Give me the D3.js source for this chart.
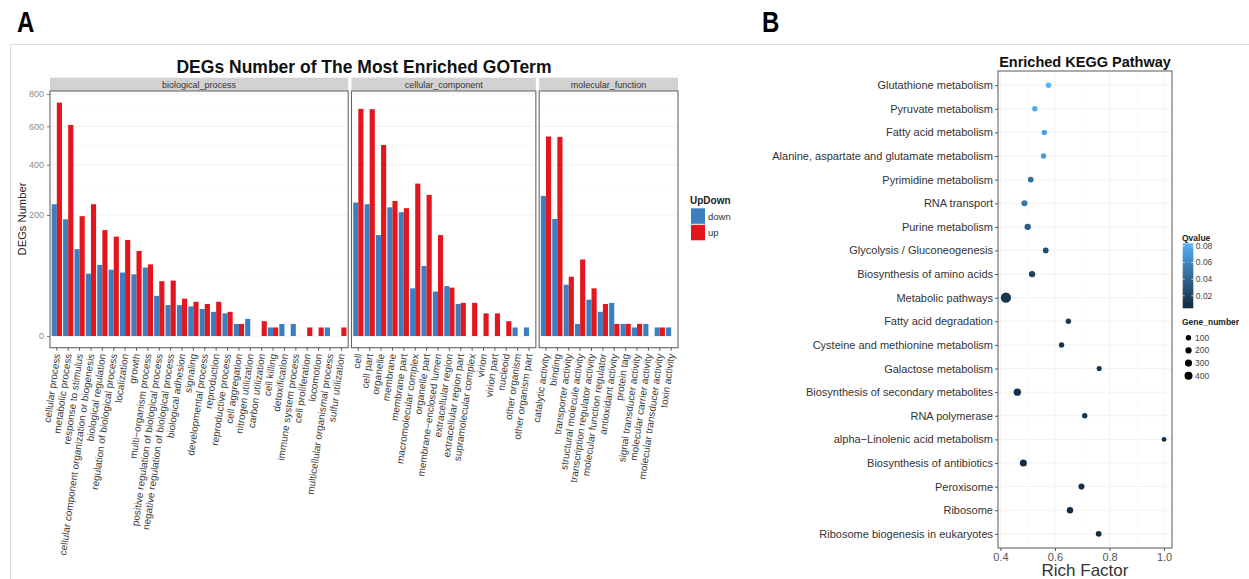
<!DOCTYPE html>
<html>
<head>
<meta charset="utf-8">
<script src="https://cdn.jsdelivr.net/npm/d3@7"></script>
<style>
  body { margin: 0; background: #fff; }
  svg { font-family: "Liberation Sans", Arial, Helvetica, sans-serif; }
</style>
</head>
<body>
<svg id="fig" width="1249" height="579"></svg>
<script>
// ---- panel A: GO terms, DEG counts (down / up) ----
const bpTerms = ["cellular process", "metabolic process", "response to stimulus",
  "cellular component organization or biogenesis", "biological regulation",
  "regulation of biological process", "localization", "growth", "multi\u2212organism process",
  "positive regulation of biological process", "negative regulation of biological process",
  "biological adhesion", "signaling", "developmental process", "reproduction",
  "reproductive process", "cell aggregation", "nitrogen utilization", "carbon utilization",
  "cell killing", "detoxification", "immune system process", "cell proliferation",
  "locomotion", "multicellular organismal process", "sulfur utilization"];
const bpDown = [237, 186, 103, 53, 69, 60, 55, 52, 64, 22, 13, 13, 12, 10, 8, 7, 2, 4, 0, 1, 2, 2, 0, 0, 1, 0];
const bpUp = [743, 608, 196, 237, 153, 135, 126, 99, 70, 41, 42, 19, 16, 14, 16, 8, 2, 0, 3, 1, 0, 0, 1, 1, 0, 1];

const ccTerms = ["cell", "cell part", "organelle", "membrane", "membrane part",
  "macromolecular complex", "organelle part", "membrane\u2212enclosed lumen",
  "extracellular region", "extracellular region part", "supramolecular complex",
  "virion", "virion part", "nucleoid", "other organism", "other organism part"];
const ccDown = [243, 237, 139, 226, 209, 31, 67, 27, 34, 14, 0, 0, 0, 0, 1, 1];
const ccUp = [704, 702, 498, 249, 223, 317, 272, 139, 32, 15, 15, 7, 7, 3, 0, 0];

const mfTerms = ["catalytic activity", "binding", "transporter activity",
  "structural molecule activity", "transcription regulator activity",
  "molecular function regulator", "antioxidant activity", "protein tag",
  "signal transducer activity", "molecular carrier activity",
  "molecular transducer activity", "toxin activity"];
const mfDown = [268, 187, 36, 2, 18, 8, 15, 2, 1, 2, 1, 1];
const mfUp = [543, 541, 48, 80, 31, 14, 2, 2, 2, 0, 1, 0];

const yTicksA = [0, 200, 400, 600, 800];
const updownKeys = ["down", "up"];

// ---- panel B: KEGG enrichment ----
const keggPathways = ["Glutathione metabolism", "Pyruvate metabolism", "Fatty acid metabolism",
  "Alanine, aspartate and glutamate metabolism", "Pyrimidine metabolism", "RNA transport",
  "Purine metabolism", "Glycolysis / Gluconeogenesis", "Biosynthesis of amino acids",
  "Metabolic pathways", "Fatty acid degradation", "Cysteine and methionine metabolism",
  "Galactose metabolism", "Biosynthesis of secondary metabolites", "RNA polymerase",
  "alpha\u2212Linolenic acid metabolism", "Biosynthesis of antibiotics", "Peroxisome",
  "Ribosome", "Ribosome biogenesis in eukaryotes"];
const richFactor = [0.576, 0.526, 0.561, 0.558, 0.511, 0.488, 0.500, 0.566, 0.516, 0.42,
  0.649, 0.624, 0.762, 0.462, 0.709, 1.0, 0.484, 0.697, 0.655, 0.760];
const qValue = [0.083, 0.078, 0.074, 0.072, 0.045, 0.052, 0.036, 0.026, 0.020, 0.012,
  0.015, 0.013, 0.012, 0.008, 0.010, 0.009, 0.007, 0.008, 0.006, 0.005];
const geneNumber = [105, 100, 100, 100, 140, 180, 215, 140, 215, 660,
  105, 105, 65, 325, 105, 30, 290, 180, 215, 140];

const xTicksB = [0.4, 0.6, 0.8, 1.0];
const qTicks = [0.02, 0.04, 0.06, 0.08];
const geneTicks = [100, 200, 300, 400];

const BLUE = "#3b7fc0", RED = "#e3161d";

const svg = d3.select("#fig");

// outer frame + panel letters
svg.append("path")
  .attr("d", "M10.5,579V44.5H1249")
  .attr("fill", "none").attr("stroke", "#dcdcdc");

svg.append("text").attr("transform", "translate(17,32) scale(0.8,1)")
  .attr("font-size", 30).attr("font-weight", "bold").text("A");
svg.append("text").attr("transform", "translate(762,32) scale(0.8,1)")
  .attr("font-size", 30).attr("font-weight", "bold").text("B");

// ================= PANEL A =================
const facets = [
  { name: "biological_process", terms: bpTerms, down: bpDown, up: bpUp },
  { name: "cellular_component", terms: ccTerms, down: ccDown, up: ccUp },
  { name: "molecular_function", terms: mfTerms, down: mfDown, up: mfUp }
];

const aTop = 91, aBottom = 347.7, aLeft = 50, aRight = 678, facetGap = 3.3;

const maxA = d3.max(facets, f => d3.max(f.up.concat(f.down)));
const sMax = Math.sqrt(maxA);
// sqrt axis, 5% expansion in transformed space (sign-preserving pow in d3)
const yA = d3.scaleSqrt()
  .domain([-Math.pow(0.05 * sMax, 2), Math.pow(1.05 * sMax, 2)])
  .range([aBottom, aTop]);

const minorA = d3.pairs(yTicksA).map(([a, b]) => Math.pow((Math.sqrt(a) + Math.sqrt(b)) / 2, 2));

const unitsA = d3.sum(facets, f => f.terms.length + 0.2);
const stepA = (aRight - aLeft - facetGap * (facets.length - 1)) / unitsA;
let cursor = aLeft;
facets.forEach(f => {
  f.x0 = cursor;
  f.x1 = cursor + stepA * (f.terms.length + 0.2);
  cursor = f.x1 + facetGap;
});

const gA = svg.append("g");

facets.forEach(f => {
  const x = d3.scaleBand().domain(f.terms).range([f.x0, f.x1])
    .paddingInner(0.1).paddingOuter(0.15);
  const xd = d3.scaleBand().domain(updownKeys).range([0, x.bandwidth()]);
  const g = gA.append("g");

  // strip
  g.append("rect").attr("x", f.x0).attr("y", 77.7)
    .attr("width", f.x1 - f.x0).attr("height", 13)
    .attr("fill", "#d2d2d2");
  g.append("text").attr("x", (f.x0 + f.x1) / 2).attr("y", 87.6)
    .attr("text-anchor", "middle").attr("font-size", 9).attr("fill", "#333")
    .text(f.name);

  // grid
  g.selectAll(".minor").data(minorA).join("line")
    .attr("x1", f.x0).attr("x2", f.x1)
    .attr("y1", d => yA(d)).attr("y2", d => yA(d))
    .attr("stroke", "#f5f5f5").attr("stroke-width", 0.6);
  g.selectAll(".major").data(yTicksA).join("line")
    .attr("x1", f.x0).attr("x2", f.x1)
    .attr("y1", d => yA(d)).attr("y2", d => yA(d))
    .attr("stroke", "#efefef").attr("stroke-width", 0.9);

  // bars
  const rows = f.terms.flatMap((t, i) => [
    { term: t, key: "down", v: f.down[i] },
    { term: t, key: "up", v: f.up[i] }
  ]).filter(d => d.v > 0);

  g.selectAll(".bar").data(rows).join("rect")
    .attr("x", d => x(d.term) + xd(d.key))
    .attr("width", xd.bandwidth())
    .attr("y", d => yA(d.v))
    .attr("height", d => yA(0) - yA(d.v))
    .attr("fill", d => d.key === "down" ? BLUE : RED);

  // border
  g.append("rect").attr("x", f.x0).attr("y", aTop)
    .attr("width", f.x1 - f.x0).attr("height", aBottom - aTop)
    .attr("fill", "none").attr("stroke", "#666").attr("stroke-width", 1.1);

  // x axis
  const ax = g.append("g").attr("transform", `translate(0,${aBottom})`)
    .call(d3.axisBottom(x).tickSize(3).tickSizeOuter(0).tickFormat(""));
  ax.select(".domain").remove();
  ax.selectAll(".tick line").attr("stroke", "#555");
  ax.selectAll(".tick").append("text")
    .attr("transform", "translate(0,6) rotate(-82)")
    .attr("text-anchor", "end").attr("dy", "0.35em")
    .attr("font-size", 10).attr("fill", "#3d3d3d")
    .text(d => d);
});

// y axis A
const ayA = gA.append("g").attr("transform", `translate(${aLeft},0)`)
  .call(d3.axisLeft(yA).tickValues(yTicksA).tickSize(3).tickSizeOuter(0).tickFormat(d3.format("d")));
ayA.select(".domain").remove();
ayA.selectAll(".tick line").attr("stroke", "#777");
ayA.selectAll(".tick text").attr("font-size", 9).attr("fill", "#8a8a8a")
  .attr("font-family", null);

gA.append("text").attr("transform", "translate(26,219) rotate(-90)")
  .attr("text-anchor", "middle").attr("font-size", 11.2).attr("fill", "#222")
  .text("DEGs Number");

gA.append("text").attr("x", (aLeft + aRight) / 2).attr("y", 73)
  .attr("text-anchor", "middle").attr("font-size", 17.5).attr("font-weight", "bold")
  .attr("fill", "#111").text("DEGs Number of The Most Enriched GOTerm");

// legend A
const legA = gA.append("g").attr("transform", "translate(690,0)");
legA.append("text").attr("x", 0).attr("y", 204).attr("font-size", 10)
  .attr("font-weight", "bold").attr("fill", "#222").text("UpDown");
legA.selectAll(".key").data(updownKeys).join("rect")
  .attr("x", 1).attr("y", (d, i) => 208.3 + i * 16.5)
  .attr("width", 14).attr("height", 15.5)
  .attr("fill", d => d === "down" ? BLUE : RED);
legA.selectAll(".lab").data(updownKeys).join("text")
  .attr("x", 18).attr("y", (d, i) => 219.5 + i * 16.5)
  .attr("font-size", 9.5).attr("fill", "#333").text(d => d);

// ================= PANEL B =================
const bLeft = 998, bRight = 1172, bTop = 71, bBottom = 548;

const rfExt = d3.extent(richFactor);
const rfPad = (rfExt[1] - rfExt[0]) * 0.05;
const xB = d3.scaleLinear().domain([rfExt[0] - rfPad, rfExt[1] + rfPad]).range([bLeft, bRight]);
const yB = d3.scalePoint().domain(keggPathways).range([bTop, bBottom]).padding(0.6);

const qExt = d3.extent(qValue);
const colorQ = d3.scaleLinear().domain(qExt).range(["#132B43", "#56B1F7"])
  .interpolate(d3.interpolateLab);
const rB = d3.scaleLinear().domain([100, 400]).range([2.7, 4.0]);

const gB = svg.append("g");

// grid
const minorB = [0.3, 0.5, 0.7, 0.9, 1.1].filter(v => v > xB.domain()[0] && v < xB.domain()[1]);
gB.selectAll(".vminor").data(minorB).join("line")
  .attr("x1", d => xB(d)).attr("x2", d => xB(d)).attr("y1", bTop).attr("y2", bBottom)
  .attr("stroke", "#f6f6f6").attr("stroke-width", 0.6);
gB.selectAll(".vmajor").data(xTicksB).join("line")
  .attr("x1", d => xB(d)).attr("x2", d => xB(d)).attr("y1", bTop).attr("y2", bBottom)
  .attr("stroke", "#f0f0f0").attr("stroke-width", 0.9);
gB.selectAll(".hmajor").data(keggPathways).join("line")
  .attr("x1", bLeft).attr("x2", bRight).attr("y1", d => yB(d)).attr("y2", d => yB(d))
  .attr("stroke", "#f0f0f0").attr("stroke-width", 0.9);

// points
const ptsB = keggPathways.map((p, i) => ({ p, rf: richFactor[i], q: qValue[i], n: geneNumber[i] }));
gB.selectAll(".pt").data(ptsB).join("circle")
  .attr("cx", d => xB(d.rf)).attr("cy", d => yB(d.p))
  .attr("r", d => rB(d.n)).attr("fill", d => colorQ(d.q));

gB.append("rect").attr("x", bLeft).attr("y", bTop)
  .attr("width", bRight - bLeft).attr("height", bBottom - bTop)
  .attr("fill", "none").attr("stroke", "#666").attr("stroke-width", 1.1);

const ayB = gB.append("g").attr("transform", `translate(${bLeft},0)`)
  .call(d3.axisLeft(yB).tickSize(3).tickSizeOuter(0).tickPadding(2));
ayB.select(".domain").remove();
ayB.selectAll(".tick line").attr("stroke", "#555");
ayB.selectAll(".tick text").attr("font-size", 11).attr("fill", "#333")
  .attr("font-family", null);

const axB = gB.append("g").attr("transform", `translate(0,${bBottom})`)
  .call(d3.axisBottom(xB).tickValues(xTicksB).tickSize(3).tickSizeOuter(0)
    .tickFormat(d3.format(".1f")).tickPadding(2));
axB.select(".domain").remove();
axB.selectAll(".tick line").attr("stroke", "#555");
axB.selectAll(".tick text").attr("font-size", 11).attr("fill", "#555")
  .attr("font-family", null);

gB.append("text").attr("x", (bLeft + bRight) / 2).attr("y", 576)
  .attr("text-anchor", "middle").attr("font-size", 17).attr("fill", "#333")
  .text("Rich Factor");

gB.append("text").attr("x", (bLeft + bRight) / 2).attr("y", 67)
  .attr("text-anchor", "middle").attr("font-size", 14.5).attr("font-weight", "bold")
  .attr("fill", "#111").text("Enriched KEGG Pathway");

// legend B: colourbar
const barX = 1182.7, barW = 10.6, barTop = 243.3, barBot = 308.3;
const qBar = d3.scaleLinear().domain(qExt).range([barBot, barTop]);
const grad = svg.append("defs").append("linearGradient").attr("id", "qgrad")
  .attr("x1", 0).attr("x2", 0).attr("y1", 1).attr("y2", 0);
grad.selectAll("stop").data(d3.range(0, 1.001, 0.1)).join("stop")
  .attr("offset", d => d)
  .attr("stop-color", d => colorQ(qExt[0] + d * (qExt[1] - qExt[0])));

const legB = gB.append("g");
legB.append("text").attr("x", 1182).attr("y", 241).attr("font-size", 8.5)
  .attr("font-weight", "bold").attr("fill", "#222").text("Qvalue");
legB.append("rect").attr("x", barX).attr("y", barTop).attr("width", barW)
  .attr("height", barBot - barTop).attr("fill", "url(#qgrad)");
legB.selectAll(".qt").data(qTicks).join("g").each(function (d) {
  const g = d3.select(this);
  g.append("line").attr("x1", barX).attr("x2", barX + 2).attr("y1", qBar(d)).attr("y2", qBar(d))
    .attr("stroke", "#fff").attr("stroke-opacity", 0.7);
  g.append("line").attr("x1", barX + barW - 2).attr("x2", barX + barW).attr("y1", qBar(d)).attr("y2", qBar(d))
    .attr("stroke", "#fff").attr("stroke-opacity", 0.7);
  g.append("text").attr("x", barX + barW + 2.5).attr("y", qBar(d)).attr("dy", "0.35em")
    .attr("font-size", 8.5).attr("fill", "#444").text(d3.format(".2f")(d));
});

legB.append("text").attr("x", 1182).attr("y", 325).attr("font-size", 8.5)
  .attr("font-weight", "bold").attr("fill", "#222").text("Gene_number");
legB.selectAll(".gk").data(geneTicks).join("circle")
  .attr("cx", 1188.5).attr("cy", (d, i) => 337.7 + i * 12.7)
  .attr("r", d => rB(d)).attr("fill", "#000");
legB.selectAll(".gl").data(geneTicks).join("text")
  .attr("x", 1195).attr("y", (d, i) => 337.7 + i * 12.7).attr("dy", "0.35em")
  .attr("font-size", 8.5).attr("fill", "#444").text(d => d);
</script>
</body>
</html>
